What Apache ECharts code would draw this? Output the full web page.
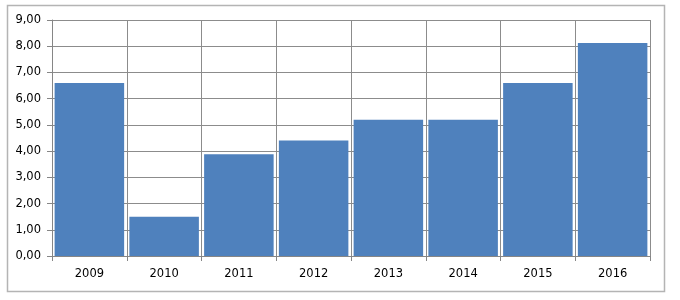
<!DOCTYPE html>
<html>
<head>
<meta charset="utf-8">
<script src="https://cdn.jsdelivr.net/npm/echarts@6/dist/echarts.min.js"></script>
<style>
  html, body { margin: 0; padding: 0; background: #fff; }
  #main { width: 680px; height: 300px; }
</style>
</head>
<body>
<div id="main"></div>
<script>
var years = ["2009", "2010", "2011", "2012", "2013", "2014", "2015", "2016"];
var values = [6.6, 1.5, 3.88, 4.4, 5.2, 5.2, 6.6, 8.12];

var chart = echarts.init(document.getElementById("main"));

var option = {
  animation: false,
  // outer frame of the chart
  graphic: [
    {
      type: "rect",
      shape: { x: 7.5, y: 5.5, width: 657, height: 286 },
      style: { fill: "none", stroke: "#b4b4b4", lineWidth: 1.5 },
      z: -1
    }
  ],
  grid: {
    left: 52,
    right: 30,
    top: 20,
    bottom: 44
  },
  xAxis: {
    type: "category",
    data: years,
    axisLine: { lineStyle: { color: "#868686", width: 1 } },
    axisTick: { show: true, length: 5, lineStyle: { color: "#868686" } },
    axisLabel: {
      color: "#000",
      fontFamily: "DejaVu Sans",
      fontSize: 11.5,
      margin: 12
    },
    splitLine: { show: true, lineStyle: { color: "#8c8c8c", width: 1 } }
  },
  yAxis: {
    type: "value",
    min: 0,
    max: 9,
    interval: 1,
    axisLine: { show: true, lineStyle: { color: "#868686", width: 1 } },
    axisTick: { show: true, length: 5, lineStyle: { color: "#868686" } },
    axisLabel: {
      color: "#000",
      fontFamily: "DejaVu Sans",
      fontSize: 11.5,
      margin: 11,
      formatter: function (v) {
        return v.toFixed(2).replace(".", ",");
      }
    },
    splitLine: { show: true, lineStyle: { color: "#8c8c8c", width: 1 } }
  },
  series: [
    {
      type: "bar",
      data: values,
      barCategoryGap: "7%",
      itemStyle: { color: "#4f81bd" }
    }
  ]
};

chart.setOption(option);
</script>
</body>
</html>
